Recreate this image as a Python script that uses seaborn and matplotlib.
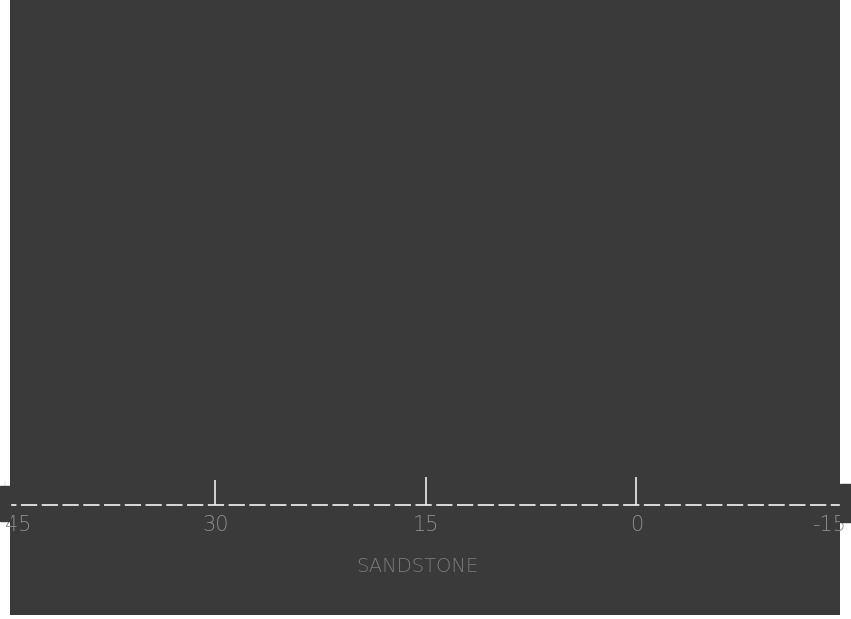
import matplotlib
matplotlib.use("Agg")
import numpy as np
import pandas as pd
import matplotlib.pyplot as plt
from matplotlib.patches import Rectangle
import seaborn as sns

# axis values
tick_values = [45, 30, 15, 0, -15]
tick_labels = ["45", "30", "15", "0", "-15"]
tick_marks = [45, 30, 15, 0]
tick_heights = [24, 25, 28, 28]
axis_label = "SANDSTONE"

line_df = pd.DataFrame({"x": [45, -15], "y": [0, 0]})

bg = "#3a3a3a"
sns.set_style("dark", {"axes.facecolor": bg, "figure.facecolor": "white"})
plt.rcParams["font.family"] = ["DejaVu Sans"]

fig = plt.figure(figsize=(8.51, 6.19), dpi=100)
W, H = 851, 619
ax = fig.add_axes([10 / W, 4 / H, 830 / W, 615 / H])

# dark patches where the axis runs past the plate edge
fig.patches.append(Rectangle((0, (H - 521) / H), 10 / W, 35 / H,
                             transform=fig.transFigure, color=bg, zorder=0))
fig.patches.append(Rectangle((840 / W, (H - 522) / H), 11 / W, 38 / H,
                             transform=fig.transFigure, color=bg, zorder=0))

sns.lineplot(data=line_df, x="x", y="y", ax=ax, color="#e6e6e6", linewidth=1.3)
ax.lines[0].set_dashes([9, 2.5])
ax.lines[0].set_clip_on(False)

ax.vlines(tick_marks, 0, tick_heights, color="#eeeeee", linewidth=1.2, clip_on=False)

ha_list = ["left", "center", "center", "center", "right"]
for v, lab, ha in zip(tick_values, tick_labels, ha_list):
    ax.text(v, -20, lab, ha=ha, va="center", color="#8e8e8e",
            fontsize=15, fontweight="light", clip_on=False)

fig.text(417 / W, 1 - 567 / H, axis_label, ha="center", va="center",
         color="#7c7c7c", fontsize=14, fontweight="light")

ax.set_xlim(44.64, -14.5)
ax.set_ylim(-110, 505)
ax.set_xticks([])
ax.set_yticks([])
ax.set_xlabel("")
ax.set_ylabel("")
for s in ax.spines.values():
    s.set_visible(False)

fig.savefig("out.png", dpi=100)
